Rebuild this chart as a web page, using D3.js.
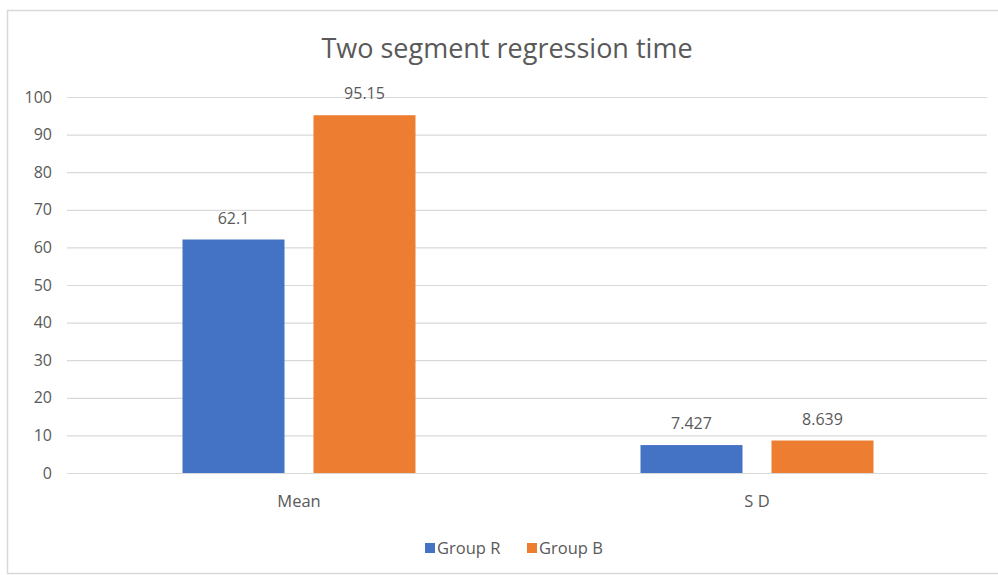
<!DOCTYPE html>
<html>
<head>
<meta charset="utf-8">
<script src="https://cdn.jsdelivr.net/npm/d3@7"></script>
<style>
  html, body { margin: 0; padding: 0; background: #fff; }
  svg { display: block; }
  text { font-family: "Open Sans", "Liberation Sans", sans-serif; fill: #595959; }
</style>
</head>
<body>
<svg id="chart" width="998" height="575"></svg>
<script>
const categories = ["Mean", "S D"];
const seriesNames = ["Group R", "Group B"];
const groupR = [62.1, 7.427];
const groupB = [95.15, 8.639];
const valueLabels = [["62.1", "95.15"], ["7.427", "8.639"]];
const yTicks = [0, 10, 20, 30, 40, 50, 60, 70, 80, 90, 100];
const colors = ["#4472C4", "#ED7D31"];

const svg = d3.select("#chart");
const W = 998, H = 575;
const plot = { left: 67, right: 987, top: 97, bottom: 473 };

// chart frame
svg.append("rect")
  .attr("x", 7.5).attr("y", 10.5)
  .attr("width", W).attr("height", H - 12)
  .attr("fill", "#fff").attr("stroke", "#d9d9d9").attr("stroke-width", 1.5);

const x0 = d3.scaleBand().domain(categories).range([plot.left + 3, plot.right - 1]);
const y = d3.scaleLinear().domain([0, 100]).range([plot.bottom, plot.top]);

// gridlines
svg.append("g").selectAll("line").data(yTicks).join("line")
  .attr("x1", plot.left).attr("x2", plot.right)
  .attr("y1", d => y(d) + 0.5).attr("y2", d => y(d) + 0.5)
  .attr("stroke", "#d9d9d9").attr("stroke-width", 1.2);

// y axis labels
const yAxis = d3.axisLeft(y).tickValues(yTicks).tickSize(0).tickPadding(0);
const yg = svg.append("g").attr("transform", "translate(52,0)").call(yAxis);
yg.select(".domain").remove();
yg.selectAll("text").attr("font-size", 16).attr("fill", "#595959")
  .style("font-family", '"Open Sans", sans-serif');

// clustered bars with value labels
const barW = 102, innerGap = 29;
const data = categories.map((c, i) => ({ cat: c, vals: [groupR[i], groupB[i]], labels: valueLabels[i] }));
const groups = svg.append("g").selectAll("g").data(data).join("g");
groups.each(function (d) {
  const cx = x0(d.cat) + x0.bandwidth() / 2;
  const g = d3.select(this);
  d.vals.forEach((v, j) => {
    const bx = j === 0 ? cx - innerGap / 2 - barW : cx + innerGap / 2;
    g.append("rect")
      .attr("x", bx).attr("y", y(v))
      .attr("width", barW).attr("height", y(0) - y(v))
      .attr("fill", colors[j]);
    g.append("text")
      .attr("x", bx + barW / 2).attr("y", y(v) - 16)
      .attr("text-anchor", "middle").attr("font-size", 16)
      .text(d.labels[j]);
  });
});

// category labels
const xAxis = d3.axisBottom(x0).tickSize(0).tickPadding(0);
const xg = svg.append("g").attr("transform", `translate(0,${plot.bottom + 34})`).call(xAxis);
xg.select(".domain").remove();
xg.selectAll("text").attr("font-size", 16.5).attr("fill", "#595959").attr("dy", 0)
  .style("font-family", '"Open Sans", sans-serif');

// title
svg.append("text")
  .attr("x", 507).attr("y", 58)
  .attr("text-anchor", "middle").attr("font-size", 27)
  .text("Two segment regression time");

// legend
const legend = svg.append("g").attr("transform", "translate(425,548)");
const lx = [0, 102];
seriesNames.forEach((s, j) => {
  const g = legend.append("g").attr("transform", `translate(${lx[j]},0)`);
  g.append("rect").attr("x", 0).attr("y", -5).attr("width", 10).attr("height", 10).attr("fill", colors[j]);
  g.append("text").attr("x", 12).attr("y", 6).attr("font-size", 16.5).text(s);
});
</script>
</body>
</html>
